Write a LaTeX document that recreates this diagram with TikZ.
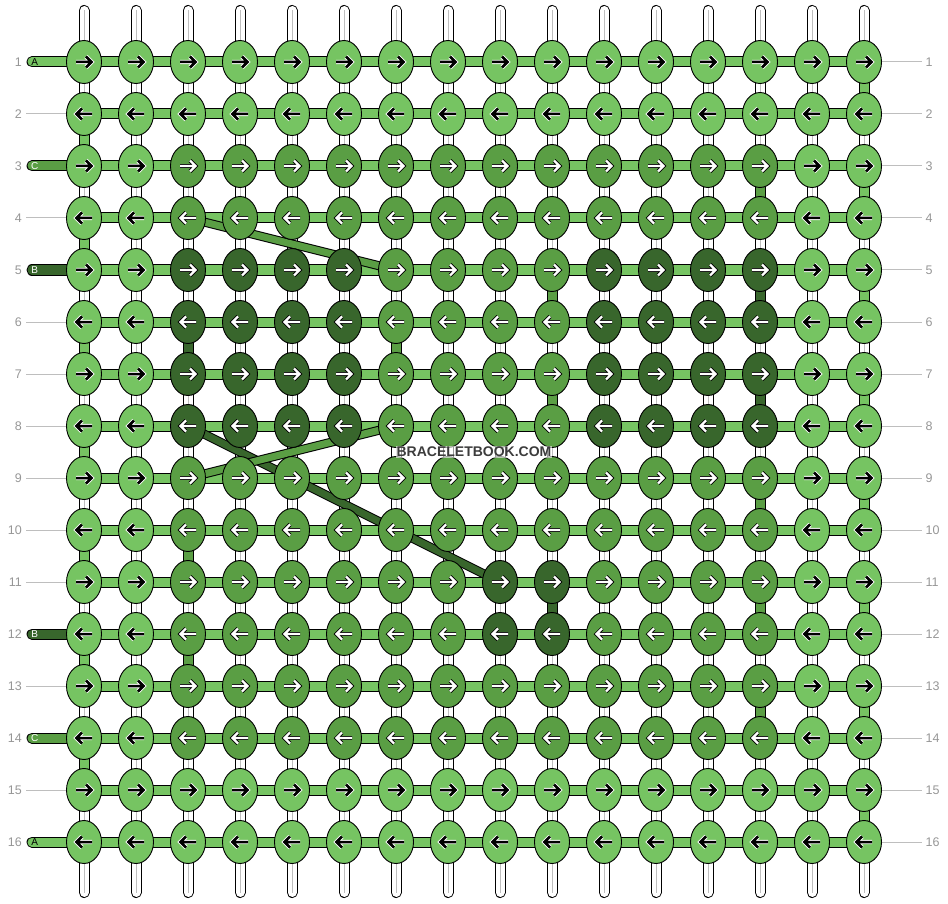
\documentclass[tikz,border=0pt]{standalone}
\usepackage{fontspec}
\setmainfont{Liberation Sans}
\usepackage{tikz}
\usetikzlibrary{shapes.geometric}
\usetikzlibrary{backgrounds}
\definecolor{stringa}{RGB}{118,196,98}
\definecolor{stringb}{RGB}{56,102,44}
\definecolor{stringc}{RGB}{90,158,68}
\definecolor{numgray}{RGB}{150,150,150}
\definecolor{linegray}{RGB}{190,190,190}
\definecolor{markgray}{RGB}{60,60,60}
\tikzset{%
    knot/.style={ellipse, draw=black, line width=0.9pt, minimum width=35pt,
        minimum height=43pt, inner sep=0pt, fill=#1},
    weft/.style={draw=black, line width=1pt, double=#1, double distance=9pt},
    stub/.style={weft=#1, line cap=round},
    diag/.style={draw=black, line width=1pt, double=#1, double distance=7pt},
    warp/.style={draw=black, line width=1pt, double=white, double distance=9pt, line cap=round},
    warpmid/.style={draw=linegray, line width=0.8pt},
    rowline/.style={draw=linegray, line width=1pt},
    rownum/.style={text=numgray, font=\fontsize{12.5}{14}\selectfont, inner sep=0pt},
    halo-a/.style={draw=white, line width=4.4pt, line join=miter},
    arrow-a/.style={draw=black, line width=2.5pt, line join=miter},
    halo-b/.style={draw=black, line width=3.9pt, line join=miter},
    arrow-b/.style={draw=white, line width=2.4pt, line join=miter},
    halo-c/.style={halo-b},
    arrow-c/.style={arrow-b},
    letter-a/.style={text=black, font=\fontsize{10}{12}\selectfont, inner sep=0pt},
    letter-b/.style={text=white, font=\fontsize{10}{12}\selectfont, inner sep=0pt},
    letter-c/.style={letter-b}
}

\begin{document}
\begin{tikzpicture}[x=1pt,y=-1pt]
    \useasboundingbox (0,0) rectangle (948,904);
    % knots, row by row
    \foreach \r/\pat in {
        1/{a,a,a,a,a,a,a,a,a,a,a,a,a,a,a,a},
        2/{a,a,a,a,a,a,a,a,a,a,a,a,a,a,a,a},
        3/{a,a,c,c,c,c,c,c,c,c,c,c,c,c,a,a},
        4/{a,a,c,c,c,c,c,c,c,c,c,c,c,c,a,a},
        5/{a,a,b,b,b,b,c,c,c,c,b,b,b,b,a,a},
        6/{a,a,b,b,b,b,c,c,c,c,b,b,b,b,a,a},
        7/{a,a,b,b,b,b,c,c,c,c,b,b,b,b,a,a},
        8/{a,a,b,b,b,b,c,c,c,c,b,b,b,b,a,a},
        9/{a,a,c,c,c,c,c,c,c,c,c,c,c,c,a,a},
        10/{a,a,c,c,c,c,c,c,c,c,c,c,c,c,a,a},
        11/{a,a,c,c,c,c,c,c,b,b,c,c,c,c,a,a},
        12/{a,a,c,c,c,c,c,c,b,b,c,c,c,c,a,a},
        13/{a,a,c,c,c,c,c,c,c,c,c,c,c,c,a,a},
        14/{a,a,c,c,c,c,c,c,c,c,c,c,c,c,a,a},
        15/{a,a,a,a,a,a,a,a,a,a,a,a,a,a,a,a},
        16/{a,a,a,a,a,a,a,a,a,a,a,a,a,a,a,a}} {
        \foreach \s [count=\c] in \pat {
            \pgfmathsetmacro{\x}{84+52*(\c-1)}
            \pgfmathsetmacro{\y}{62+52*(\r-1)}
            \pgfmathsetmacro{\d}{ifthenelse(isodd(\r),1,-1)}
            \node[knot=string\s] (k-\r-\c) at (\x,\y) {};
            \draw[halo-\s, shift={(\x,\y)}, xscale=\d] (-8,0)--(7,0) (2,-5.5)--(7.5,0)--(2,5.5);
            \draw[arrow-\s, shift={(\x,\y)}, xscale=\d] (-8,0)--(7,0) (2,-5.5)--(7.5,0)--(2,5.5);
        }
    }
    % row numbers and lines
    \foreach \r in {1,...,16} {
        \pgfmathsetmacro{\y}{62+52*(\r-1)}
        \node[rownum, anchor=east] (n-\r) at (22,\y) {\r};
        \node[rownum, anchor=west] (m-\r) at (925.5,\y) {\r};
        \coordinate (e-\r) at (922,\y);
        \draw[rowline] (k-\r-16) -- (e-\r);
    }
    \foreach \r in {2,4,6,7,8,9,10,11,13,15} {
        \pgfmathsetmacro{\y}{62+52*(\r-1)}
        \coordinate (w-\r) at (26,\y);
        \draw[rowline] (w-\r) -- (k-\r-1);
    }
    \node[fill=white, fill opacity=0.6, text opacity=1, text=markgray, inner sep=1pt,
        font=\bfseries\fontsize{14}{16}\selectfont] (mark) at (474,452) {BRACELETBOOK.COM};

    \begin{pgfonlayer}{background}
        % white strings
        \foreach \c in {1,...,16} {
            \pgfmathsetmacro{\x}{84+52*(\c-1)}
            \coordinate (t-\c) at (\x,10.5);
            \coordinate (b-\c) at (\x,892.5);
            \draw[warp] (t-\c) -- (b-\c);
            \draw[warpmid] (t-\c) -- (b-\c);
        }
        % light string along the rows
        \foreach \r in {1,...,16}
            \draw[weft=stringa] (k-\r-1.center) -- (k-\r-16.center);
        % strings coming in and going out on the left
        \foreach \r/\s/\lab in {1/a/A,3/c/C,5/b/B,12/b/B,14/c/C,16/a/A} {
            \pgfmathsetmacro{\y}{62+52*(\r-1)}
            \coordinate (s-\r) at (32,\y);
            \draw[stub=string\s] (s-\r) -- (k-\r-1.center);
            \node[letter-\s] (l-\r) at (34.8,\y) {\lab};
        }
        % turns between rows
        \foreach \c/\r/\s in {16/1/a,1/2/a,16/3/a,1/4/a,16/5/a,1/6/a,16/7/a,1/8/a,
            16/9/a,1/10/a,16/11/a,1/12/a,16/13/a,1/14/a,16/15/a,
            14/3/c,10/5/c,7/6/c,10/7/c,14/9/c,3/10/c,14/11/c,3/12/c,14/13/c,
            14/5/b,3/6/b,14/7/b,10/11/b} {
            \pgfmathtruncatemacro{\rn}{\r+1}
            \draw[weft=string\s] (k-\r-\c.center) -- (k-\rn-\c.center);
        }
        % strings jumping across
        \draw[diag=stringb] (k-8-3.center) -- (k-11-9.center);
        \draw[diag=stringc] (k-4-3.center) -- (k-5-7.center);
        \draw[diag=stringc] (k-8-7.center) -- (k-9-3.center);
    \end{pgfonlayer}
\end{tikzpicture}
\end{document}
